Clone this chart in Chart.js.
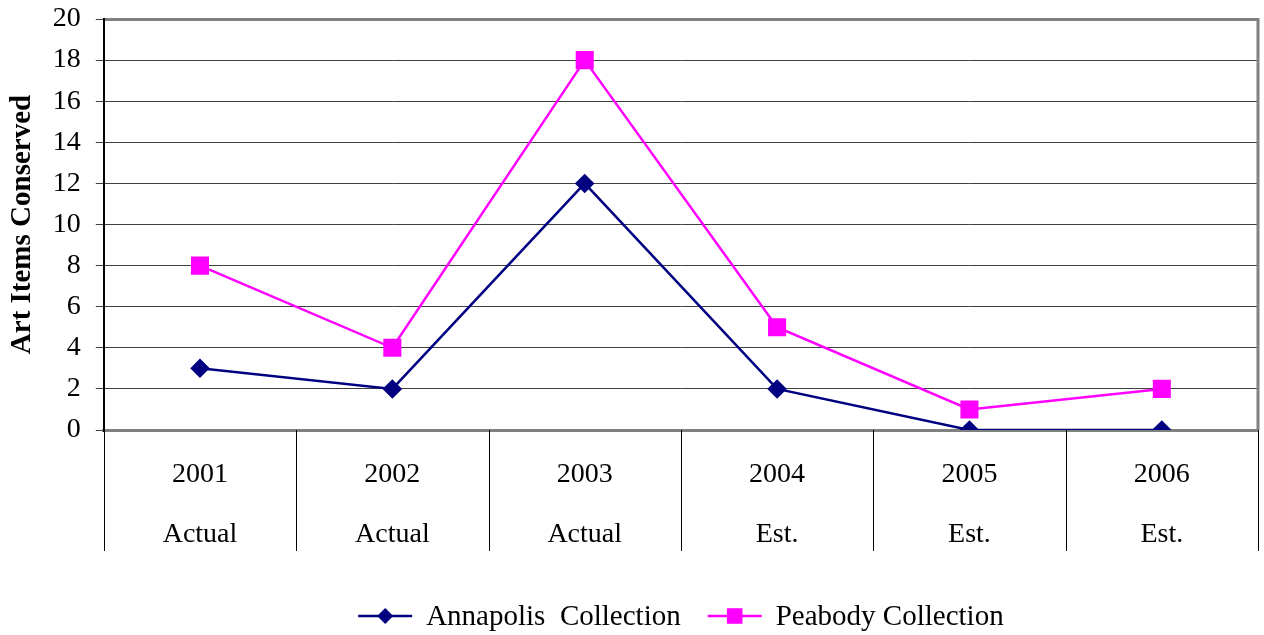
<!DOCTYPE html>
<html>
<head>
<meta charset="utf-8">
<title>Art Items Conserved</title>
<script src="https://cdn.jsdelivr.net/npm/chart.js@4.4.1/dist/chart.umd.min.js"></script>
<style>
  html, body { margin: 0; padding: 0; background: #fff; }
  #wrap { width: 1264px; height: 635px; }
</style>
</head>
<body>
<div id="wrap"><canvas id="chart" width="1264" height="635"></canvas></div>
<script>
// Chart data
const YEARS = ['2001', '2002', '2003', '2004', '2005', '2006'];
const STATUS = ['Actual', 'Actual', 'Actual', 'Est.', 'Est.', 'Est.'];
const ANNAPOLIS = [3, 2, 12, 2, 0, 0];
const PEABODY = [8, 4, 18, 5, 1, 2];
const Y_TICKS = [0, 2, 4, 6, 8, 10, 12, 14, 16, 18, 20];

const SERIF = "'Liberation Serif', 'Times New Roman', serif";

/**
 * Category separators below the axis and the grey right frame line
 */
const frame = {
  id: 'frame',
  afterDraw(chart) {
    const ctx = chart.ctx;
    const area = chart.chartArea;
    const xs = chart.scales.x;
    const n = chart.data.labels.length;
    const half = (xs.getPixelForValue(1) - xs.getPixelForValue(0)) / 2;

    ctx.save();
    ctx.strokeStyle = '#000';
    ctx.lineWidth = 1;
    for (let i = 0; i <= n; i++) {
      const x = Math.round(xs.getPixelForValue(i) - half) + 0.5;
      ctx.beginPath();
      ctx.moveTo(x, area.bottom);
      ctx.lineTo(x, area.bottom + 121);
      ctx.stroke();
    }
    ctx.strokeStyle = '#808080';
    ctx.lineWidth = 3;
    ctx.beginPath();
    ctx.moveTo(area.right, area.top - 1);
    ctx.lineTo(area.right, area.bottom);
    ctx.stroke();
    ctx.restore();
  }
};

/**
 * Legend drawn below the axis: short line with the marker on it, then the name
 */
const lineLegend = {
  id: 'lineLegend',
  afterDraw(chart) {
    const ctx = chart.ctx;
    const area = chart.chartArea;
    const y = 616;
    const lineLen = 54;
    const gap = 14;
    const itemGap = 27;

    ctx.save();
    ctx.font = '29px ' + SERIF;
    ctx.textBaseline = 'middle';

    const items = chart.data.datasets.map(ds => ({
      ds,
      w: lineLen + gap + ctx.measureText(ds.label).width
    }));
    const total = items.reduce((s, it) => s + it.w, 0) + itemGap * (items.length - 1);
    let x = (area.left + area.right) / 2 - total / 2;

    items.forEach(({ ds, w }) => {
      ctx.strokeStyle = ds.borderColor;
      ctx.lineWidth = 2.5;
      ctx.beginPath();
      ctx.moveTo(x, y);
      ctx.lineTo(x + lineLen, y);
      ctx.stroke();

      ctx.fillStyle = ds.pointBackgroundColor;
      const cx = x + lineLen / 2;
      const r = ds.pointRadius;
      ctx.beginPath();
      if (ds.pointStyle === 'rectRot') {
        ctx.moveTo(cx, y - r);
        ctx.lineTo(cx + r, y);
        ctx.lineTo(cx, y + r);
        ctx.lineTo(cx - r, y);
        ctx.closePath();
      } else {
        const s = r * Math.SQRT1_2;
        ctx.rect(cx - s, y - s, s * 2, s * 2);
      }
      ctx.fill();

      ctx.fillStyle = '#000';
      ctx.fillText(ds.label, x + lineLen + gap, y + 1);
      x += w + itemGap;
    });
    ctx.restore();
  }
};

new Chart(document.getElementById('chart'), {
  type: 'line',
  data: {
    labels: YEARS.map((yr, i) => [yr, STATUS[i]]),
    datasets: [
      {
        label: 'Annapolis  Collection',
        data: ANNAPOLIS,
        borderColor: '#000080',
        backgroundColor: '#000080',
        pointBackgroundColor: '#000080',
        pointBorderColor: '#000080',
        pointStyle: 'rectRot',
        pointRadius: 8,
        borderWidth: 2.5,
        tension: 0
      },
      {
        label: 'Peabody Collection',
        data: PEABODY,
        borderColor: '#FF00FF',
        backgroundColor: '#FF00FF',
        pointBackgroundColor: '#FF00FF',
        pointBorderColor: '#FF00FF',
        pointStyle: 'rect',
        pointRadius: 11,
        borderWidth: 2.5,
        tension: 0
      }
    ]
  },
  options: {
    responsive: false,
    animation: false,
    layout: {
      autoPadding: false,
      padding: { left: 1, right: 6, top: 19, bottom: 55 }
    },
    plugins: {
      legend: { display: false },
      tooltip: { enabled: false }
    },
    scales: {
      x: {
        offset: true,
        afterFit: scale => {
          scale.paddingLeft = 0;
          scale.paddingRight = 0;
        },
        grid: { display: false, drawTicks: false },
        border: { color: '#808080', width: 3 },
        ticks: {
          color: '#000',
          padding: 15,
          font: { family: SERIF, size: 28, lineHeight: 60 / 28 },
          maxRotation: 0,
          autoSkip: false
        }
      },
      y: {
        min: 0,
        max: 20,
        afterBuildTicks: scale => {
          scale.ticks = Y_TICKS.map(v => ({ value: v }));
        },
        afterFit: scale => {
          scale.paddingTop = 0;
          scale.paddingBottom = 0;
        },
        grid: {
          color: ctx => (ctx.tick && (ctx.tick.value === 0 || ctx.tick.value === 20)) ? '#808080' : '#404040',
          lineWidth: ctx => (ctx.tick && (ctx.tick.value === 0 || ctx.tick.value === 20)) ? 3 : 1,
          tickColor: '#404040',
          tickWidth: 1,
          tickLength: 8
        },
        border: { color: '#000', width: 2 },
        ticks: {
          color: '#000',
          padding: 15,
          font: { family: SERIF, size: 28, lineHeight: 1 }
        },
        title: {
          display: true,
          text: 'Art Items Conserved',
          color: '#000',
          padding: { top: 4, bottom: -2 },
          font: { family: SERIF, size: 29, weight: 'bold' }
        }
      }
    }
  },
  plugins: [frame, lineLegend]
});
</script>
</body>
</html>
